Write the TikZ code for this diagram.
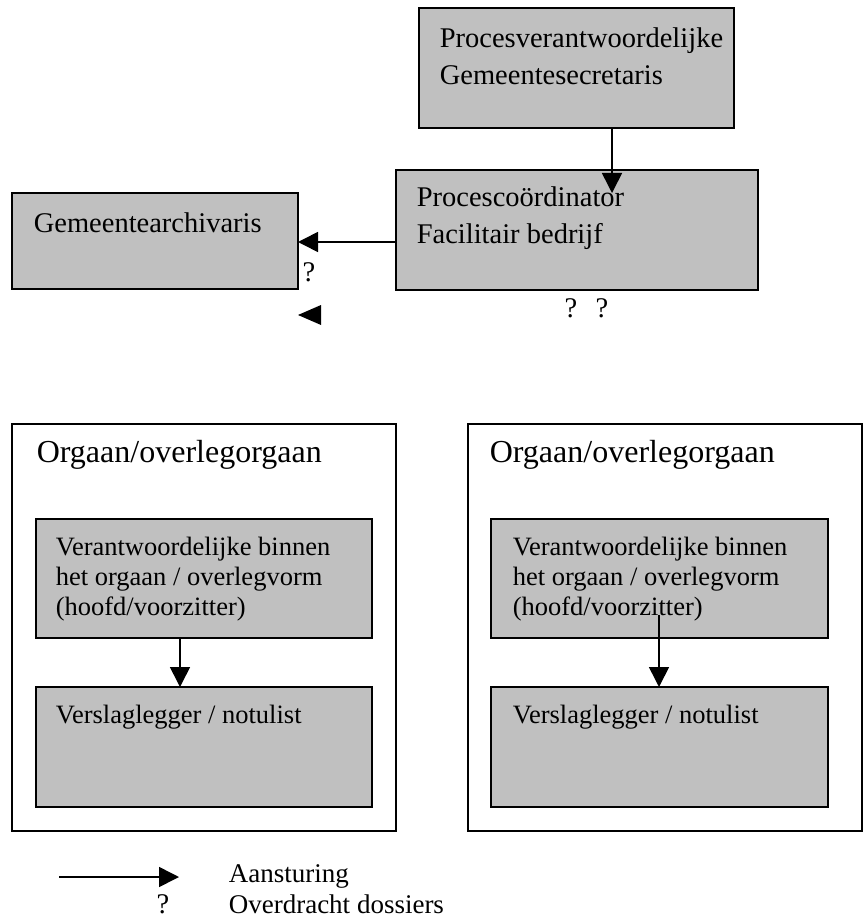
\documentclass[tikz,border=0pt]{standalone}
\usepackage{fontspec}
\setmainfont{Liberation Serif}
\usetikzlibrary{arrows.meta, calc}
\definecolor{boxgray}{RGB}{192,192,192}

\begin{document}
\begin{tikzpicture}[x=0.5pt, y=-0.5pt, line width=0.8pt,
    graybox/.style={draw, fill=boxgray, anchor=north west, inner sep=0pt, outer sep=0pt},
    framebox/.style={draw, anchor=north west, inner sep=0pt, outer sep=0pt},
    boxtext/.style={anchor=north west, inner sep=0pt, align=left, font=\fontsize{14.25}{18.3}\selectfont},
    innertext/.style={anchor=north west, inner sep=0pt, align=left, font=\fontsize{13.25}{15}\selectfont},
    headtext/.style={anchor=north west, inner sep=0pt, font=\fontsize{16}{19}\selectfont},
    qmark/.style={anchor=base, inner sep=0pt, font=\fontsize{14.25}{18}\selectfont},
    drive/.style={-{Triangle[length=10pt, width=10pt]}}]
    \useasboundingbox (0,0) rectangle (863,919);

    % top row
    \node[graybox, minimum width=157.5pt, minimum height=60pt] (psec) at (419,8) {};
    \node[boxtext] (psectxt) at (439,27) {Procesverantwoordelijke\\Gemeentesecretaris};
    \node[graybox, minimum width=181pt, minimum height=60pt] (pcoord) at (396,170) {};
    \node[boxtext] (pcoordtxt) at (416,186) {Procescoördinator\\Facilitair bedrijf};
    \node[graybox, minimum width=143pt, minimum height=48pt] (garch) at (12,193) {};
    \node[boxtext] (garchtxt) at (33,212) {Gemeentearchivaris};

    \draw[drive] ([xshift=17.75pt]psec.south) -- ([xshift=17.75pt]psec.south |- pcoord.north)
        [shorten >=-11.5pt];
    \draw[drive] ([yshift=-6pt]pcoord.west) -- ([yshift=-6pt]pcoord.west -| garch.east);
    \node[qmark] (q1) at (309,282) {?};
    \fill (298,315) coordinate (tri) -- (321,305) -- (321,325) -- cycle;
    \node[qmark] (q2) at (571,317) {?};
    \node[qmark] (q3) at (602,317) {?};

    % organen
    \node[framebox, minimum width=192pt, minimum height=203.5pt] (org1) at (12,424) {};
    \node[headtext] (org1txt) at (36,439) {Orgaan/overlegorgaan};
    \node[graybox, minimum width=168pt, minimum height=59.5pt] (vw1) at (36,519) {};
    \node[innertext] (vw1txt) at (55,536) {Verantwoordelijke binnen\\het orgaan / overlegvorm\\(hoofd/voorzitter)};
    \node[graybox, minimum width=168pt, minimum height=60pt] (nl1) at (36,687) {};
    \node[innertext] (nl1txt) at (55,704) {Verslaglegger / notulist};
    \draw[drive] ([xshift=-12pt]vw1.south) -- ([xshift=-12pt]nl1.north);

    \node[framebox, minimum width=197pt, minimum height=203.5pt] (org2) at (468,424) {};
    \node[headtext] (org2txt) at (489,439) {Orgaan/overlegorgaan};
    \node[graybox, minimum width=168.5pt, minimum height=59.5pt] (vw2) at (491,519) {};
    \node[innertext] (vw2txt) at (512,536) {Verantwoordelijke binnen\\het orgaan / overlegvorm\\(hoofd/voorzitter)};
    \node[graybox, minimum width=168.5pt, minimum height=60pt] (nl2) at (491,687) {};
    \node[innertext] (nl2txt) at (512,704) {Verslaglegger / notulist};
    \draw[drive] ([xshift=-0.25pt, yshift=11.5pt]vw2.south) -- ([xshift=-0.25pt]nl2.north);

    % legenda
    \coordinate (legA) at (59,877);
    \coordinate (legB) at (179,877);
    \draw[drive] (legA) -- (legB);
    \node[qmark] (legq) at (163,913) {?};
    \node[anchor=base west, inner sep=0pt, align=left, font=\fontsize{13.5}{15.5}\selectfont]
        (legtxt) at (228,913) {Aansturing\\Overdracht dossiers};
\end{tikzpicture}
\end{document}
